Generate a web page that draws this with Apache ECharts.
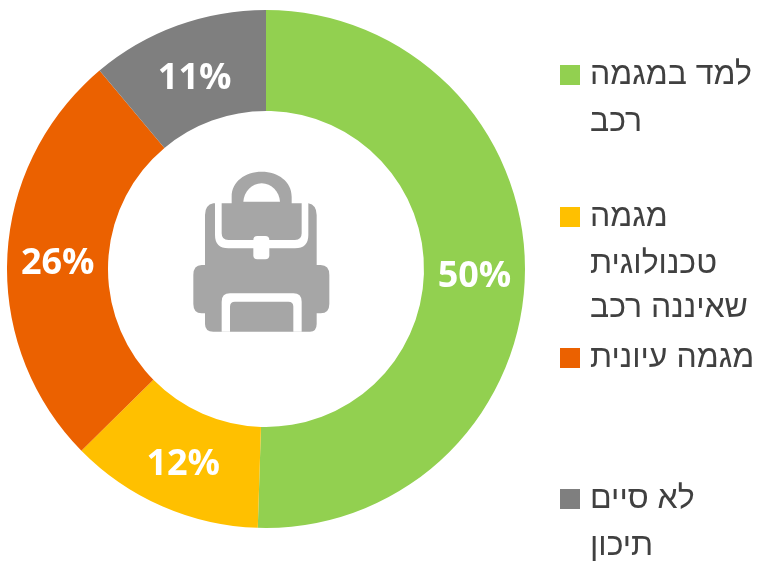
<!DOCTYPE html>
<html><head><meta charset="utf-8">
<style>html,body{margin:0;padding:0;background:#fff}#c{width:763px;height:565px}</style>
<script src="https://cdn.jsdelivr.net/npm/echarts@6/dist/echarts.min.js"></script>
</head><body><div id="c"></div>
<script>
const categories = ['למד במגמה רכב','מגמה טכנולוגית שאיננה רכב','מגמה עיונית','לא סיים תיכון'];
const legendLines = [['למד במגמה','רכב'],['מגמה','טכנולוגית','שאיננה רכב'],['מגמה עיונית'],['לא סיים','תיכון']];
const values = [50,12,26,11];
const colors = ['#92d050','#ffc000','#eb6100','#7f7f7f'];
const legendTops = [65,207,348,489];
const labelOffsets = [[-3,4],[2,2],[3,5],[1,8]];
const FONT = '"Open Sans"';
const LEGEND_FONT = '"Liberation Sans"';
const LEGEND_SIZE = 32;
const LH = 44;

const chart = echarts.init(document.getElementById('c'),null,{renderer:'canvas'});
const bagParts = {
 bagGrey:['#a6a6a6','M130 160Q105 165 105 195V345H95Q70 345 70 375V462Q70 490 95 490H105V522Q105 545 130 545H420Q440 545 440 522V490H452Q478 490 478 462V375Q478 345 452 345H440V195Q440 165 415 160Z'+
 'M185 160V140C185 95 225 65 275 65C325 65 365 95 365 140V160Z'],
 bagHole:['#fff','M220 155C222 125 245 100 275 100C305 100 328 125 330 155Z'],
 bagStrap:['#fff','M135 155H155V250Q155 270 175 270H375Q395 270 395 250V155H415V255Q415 295 375 295H175Q135 295 135 255Z'],
 bagPocket:['#fff','M180 430H370Q395 430 395 455V545H370V470Q370 455 355 455H195Q180 455 180 470V545H155V455Q155 430 180 430Z'],
 bagClasp:['#fff','M262 258H286Q298 258 298 270V316Q298 328 286 328H262Q250 328 250 316V270Q250 258 262 258Z']
};
const icon = Object.keys(bagParts).map(k=>{
  echarts.graphic.registerShape(k, echarts.graphic.extendPath(bagParts[k][1]));
  return {type:k,x:170,y:150,scaleX:1/3,scaleY:1/3,shape:{},style:{fill:bagParts[k][0]}};
});
const contLines = [];
legendLines.forEach((lines,i)=>lines.slice(1).forEach((t,j)=>contLines.push({
  type:'text',x:590,y:legendTops[i]+13+LH*(j+1),
  style:{text:t,font:LEGEND_SIZE+'px '+LEGEND_FONT,fill:'#404040',align:'left',verticalAlign:'middle'}
})));
chart.setOption({
  animation:false,
  backgroundColor:'#ffffff',
  legend: categories.map((c,i)=>({
    data:[c],orient:'vertical',left:560,top:legendTops[i]-10,
    padding:0,itemWidth:20,itemHeight:20,itemGap:0,
    icon:'rect',selectedMode:false,
    formatter:()=>legendLines[i][0],
    textStyle:{fontFamily:LEGEND_FONT,fontSize:LEGEND_SIZE,color:'#404040',lineHeight:40,padding:[0,0,0,5]}
  })),
  series:[{
    type:'pie',center:[266,269],radius:[158,259],startAngle:90,clockwise:true,
    avoidLabelOverlap:false,silent:true,
    label:{position:'inside',formatter:p=>p.value+'%',color:'#fff',fontFamily:FONT,fontWeight:'bold',fontSize:36},
    labelLine:{show:false},
    data:categories.map((name,i)=>({name,value:values[i],itemStyle:{color:colors[i]},label:{offset:labelOffsets[i]}}))
  }],
  graphic:[...icon,...contLines]
});
</script></body></html>
